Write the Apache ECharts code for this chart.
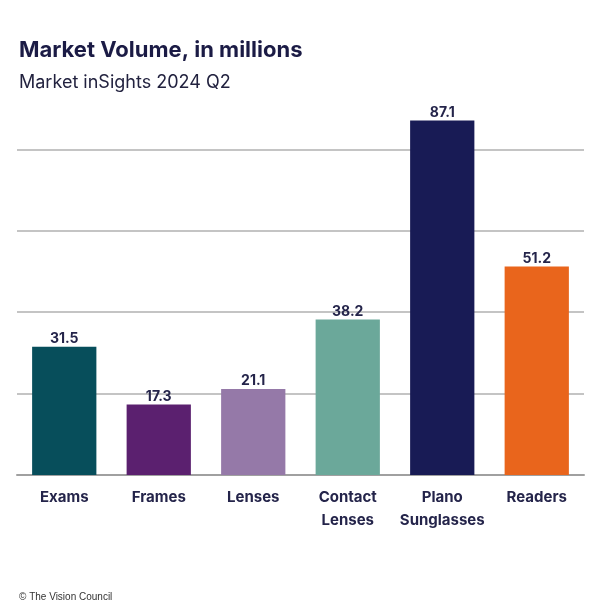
<!DOCTYPE html>
<html><head><meta charset="utf-8">
<script src="https://cdn.jsdelivr.net/npm/echarts@6/dist/echarts.min.js"></script>
<style>html,body{margin:0;padding:0;background:#fff}#c{width:600px;height:611px}</style>
</head><body><div id="c"></div>
<script>
const categories = ['Exams', 'Frames', 'Lenses', 'Contact\nLenses', 'Plano\nSunglasses', 'Readers'];
const values = [31.5, 17.3, 21.1, 38.2, 87.1, 51.2];
const barColors = ['#074e5b', '#5b206f', '#9579a8', '#6ba89a', '#181b55', '#e9651c'];
const title = 'Market Volume, in millions';
const subtitle = 'Market inSights 2024 Q2';
const footer = '© The Vision Council';

const chart = echarts.init(document.getElementById('c'), null, {renderer: 'canvas'});
chart.setOption({
  backgroundColor: '#ffffff',
  animation: false,
  title: [
    {text: title, left: 14, top: 34, textStyle: {fontFamily: 'Inter', fontWeight: 'bold', fontSize: 22, color: '#1b1b45'}},
    {text: subtitle, left: 14, top: 69, textStyle: {fontFamily: 'Inter', fontWeight: 'normal', fontSize: 18, color: '#22223f'}},
    {text: footer, left: 14, top: 587, textStyle: {fontFamily: 'Liberation Sans', fontWeight: 'normal', fontSize: 10, color: '#333'}}
  ],
  grid: {left: 17, right: 16, top: 68, bottom: 136, containLabel: false},
  xAxis: {
    type: 'category', data: categories,
    axisLine: {show: true, lineStyle: {color: '#a0a0a0', width: 2}},
    axisTick: {show: false},
    axisLabel: {interval: 0, margin: 11, fontFamily: 'Inter', fontWeight: 'bold', fontSize: 15, lineHeight: 23, color: '#24244a'}
  },
  yAxis: {
    type: 'value', min: 0, max: 100, interval: 20,
    axisLabel: {show: false}, axisLine: {show: false}, axisTick: {show: false},
    splitLine: {show: true, lineStyle: {color: ['#c4c4c4', '#c4c4c4', '#c4c4c4', '#c4c4c4', '#c4c4c4', 'rgba(0,0,0,0)'], width: 2}}
  },
  series: [{
    type: 'bar', barWidth: '68%',
    data: values.map((v, i) => ({value: v, itemStyle: {color: barColors[i]}})),
    label: {show: true, position: 'top', distance: 1, fontFamily: 'Inter', fontWeight: 'bold', fontSize: 14, color: '#24244a', formatter: p => p.value.toFixed(1)}
  }]
});
</script></body></html>
